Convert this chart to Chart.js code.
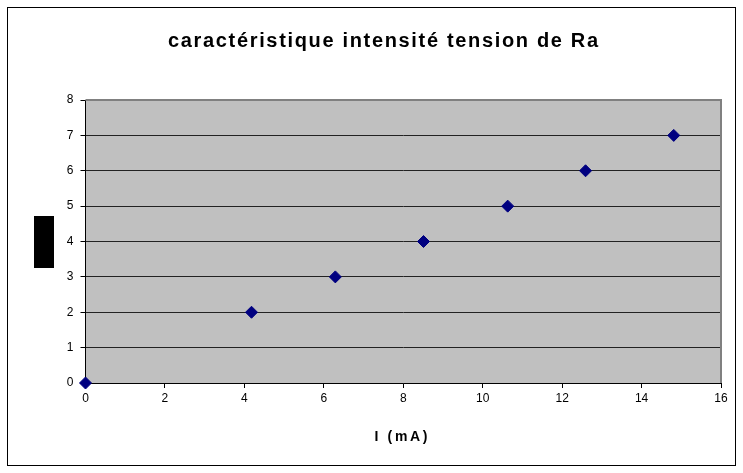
<!DOCTYPE html>
<html>
<head>
<meta charset="utf-8">
<script src="https://cdn.jsdelivr.net/npm/chart.js@4"></script>
<style>
  html, body { margin: 0; padding: 0; background: #fff; }
  canvas { display: block; }
</style>
</head>
<body>
<canvas id="chart" width="743" height="473"></canvas>
<script>
// Measured points (I in mA, U in V)
const currentMA = [0, 4.18, 6.29, 8.51, 10.63, 12.59, 14.81];
const voltage = [0, 2, 3, 4, 5, 6, 7];
const chartTitle = 'caractéristique intensité tension de Ra';
const xTitle = 'I (mA)';

const points = currentMA.map((x, i) => ({ x: x, y: voltage[i] }));
const FONT = "'Liberation Sans', Arial, sans-serif";

// draw text spread to a given width (Excel spaces its titles out)
function spacedText(ctx, text, cx, cy, font, targetWidth) {
    ctx.save();
    ctx.font = font;
    ctx.fillStyle = '#000';
    ctx.textAlign = 'left';
    ctx.textBaseline = 'middle';
    const w = ctx.measureText(text).width;
    const gap = Math.max(0, (targetWidth - w) / (text.length - 1));
    ctx.letterSpacing = gap + 'px';
    const full = ctx.measureText(text).width - gap;
    ctx.fillText(text, cx - full / 2, cy);
    ctx.restore();
}

// Excel-like frame: outer border, grey plot area, titles, hidden y label box
const excelFrame = {
    id: 'excelFrame',
    beforeDraw(chart) {
        const ctx = chart.ctx;
        const a = chart.chartArea;
        ctx.save();
        ctx.fillStyle = '#ffffff';
        ctx.fillRect(0, 0, chart.width, chart.height);
        ctx.strokeStyle = '#000';
        ctx.lineWidth = 1;
        ctx.strokeRect(7.5, 7.5, 728, 458);
        ctx.fillStyle = '#c0c0c0';
        ctx.fillRect(a.left, a.top, a.right - a.left, a.bottom - a.top);
        ctx.restore();
    },
    beforeDatasetsDraw(chart) {
        const ctx = chart.ctx;
        const a = chart.chartArea;
        ctx.save();
        ctx.strokeStyle = '#808080';
        ctx.lineWidth = 2;
        ctx.beginPath();
        ctx.moveTo(a.left, a.top);
        ctx.lineTo(a.right, a.top);
        ctx.lineTo(a.right, a.bottom);
        ctx.stroke();
        ctx.restore();
    },
    afterDraw(chart) {
        const ctx = chart.ctx;
        spacedText(ctx, chartTitle, 383, 41, 'bold 20px ' + FONT, 430);
        spacedText(ctx, xTitle, 401, 437, 'bold 14px ' + FONT, 53);
        ctx.save();
        ctx.fillStyle = '#000';
        ctx.fillRect(34, 216, 20, 52);
        ctx.restore();
    }
};

const ctx = document.getElementById('chart').getContext('2d');
new Chart(ctx, {
    type: 'scatter',
    data: {
        datasets: [{
            data: points,
            pointStyle: 'rectRot',
            pointRadius: 6,
            pointHoverRadius: 6,
            borderWidth: 1,
            backgroundColor: '#000080',
            borderColor: '#000080',
            clip: false
        }]
    },
    options: {
        responsive: false,
        animation: false,
        events: [],
        layout: { padding: { left: 45, right: 22, top: 100, bottom: 0 } },
        plugins: {
            legend: { display: false },
            tooltip: { enabled: false },
            title: { display: false }
        },
        scales: {
            x: {
                type: 'linear',
                min: 0,
                max: 16,
                afterFit(scale) { scale.height = 90; },
                ticks: {
                    stepSize: 2,
                    color: '#000',
                    padding: 3,
                    font: { family: FONT, size: 12 }
                },
                grid: {
                    drawOnChartArea: false,
                    drawTicks: true,
                    tickLength: 5,
                    color: '#000'
                },
                border: { color: '#000', width: 1 }
            },
            y: {
                min: 0,
                max: 8,
                afterFit(scale) { scale.width = 40.5; },
                ticks: {
                    stepSize: 1,
                    color: '#000',
                    padding: 7,
                    font: { family: FONT, size: 12 }
                },
                grid: {
                    drawTicks: true,
                    tickLength: 5,
                    color: (c) => c.tick && c.tick.value === 8 ? '#808080' : '#222222',
                    tickColor: '#000'
                },
                border: { color: '#000', width: 1 }
            }
        }
    },
    plugins: [excelFrame]
});
</script>
</body>
</html>
